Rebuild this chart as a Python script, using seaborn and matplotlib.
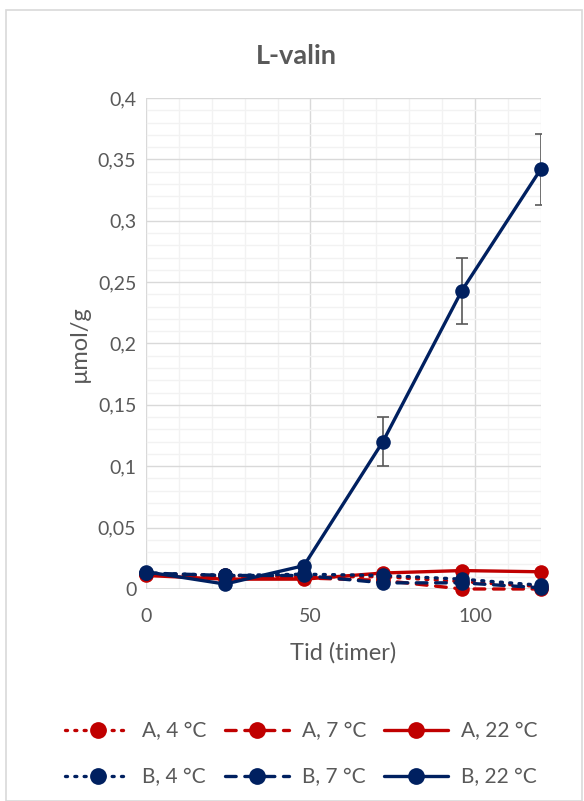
import matplotlib
matplotlib.use("Agg")
import matplotlib.pyplot as plt
import seaborn as sns
import pandas as pd
import numpy as np
from matplotlib.ticker import MultipleLocator, FuncFormatter

# ---- data ----
hours = [0, 24, 48, 72, 96, 120]
series_names = ["A, 4 °C", "A, 7 °C", "A, 22 °C", "B, 4 °C", "B, 7 °C", "B, 22 °C"]
a_4 = [0.012, 0.011, 0.010, 0.010, 0.006, 0.002]
a_7 = [0.012, 0.010, 0.009, 0.007, 0.000, 0.000]
a_22 = [0.011, 0.008, 0.008, 0.013, 0.015, 0.014]
b_4 = [0.013, 0.011, 0.012, 0.011, 0.008, 0.003]
b_7 = [0.013, 0.011, 0.011, 0.005, 0.005, 0.001]
b_22 = [0.014, 0.004, 0.019, 0.120, 0.243, 0.342]
b_22_err = [0.0, 0.0, 0.0, 0.020, 0.027, 0.029]

values = [a_4, a_7, a_22, b_4, b_7, b_22]
red = "#C00000"
navy = "#002060"
colors = [red, red, red, navy, navy, navy]
styles = [(0, (0.6, 2.2)), (0, (3.2, 2.6)), "-", (0, (0.6, 2.2)), (0, (3.2, 2.6)), "-"]

rows = []
for name, vals in zip(series_names, values):
    for h, v in zip(hours, vals):
        rows.append({"Tid": h, "val": v, "serie": name})
df = pd.DataFrame(rows)

sns.set_theme(style="white")
plt.rcParams["font.family"] = ["Lato", "DejaVu Sans"]
text_col = "#595959"

fig = plt.figure(figsize=(5.84, 8.01), dpi=100)
ax = fig.add_axes([0.25, 0.2647, 0.676, 0.613])

# grids
ax.set_xlim(0, 120)
ax.set_ylim(0, 0.4)
ax.xaxis.set_major_locator(MultipleLocator(50))
ax.xaxis.set_minor_locator(MultipleLocator(10))
ax.yaxis.set_major_locator(MultipleLocator(0.05))
ax.yaxis.set_minor_locator(MultipleLocator(0.01))
ax.grid(which="minor", color="#F2F2F2", linewidth=1.0)
ax.grid(which="major", color="#D9D9D9", linewidth=1.0)
ax.set_axisbelow(True)
for s in ax.spines.values():
    s.set_visible(False)
ax.axhline(0, color="#D9D9D9", linewidth=1.2, zorder=1)
ax.axvline(0, color="#D9D9D9", linewidth=1.2, zorder=1)

for name, c, ls in zip(series_names, colors, styles):
    sub = df[df["serie"] == name]
    sns.lineplot(data=sub, x="Tid", y="val", ax=ax, color=c, linestyle=ls,
                 linewidth=2.4, marker="o", markersize=10.5, markeredgewidth=0,
                 dash_capstyle="round", label=name, legend=False, clip_on=False,
                 zorder=3)

ax.errorbar(hours, b_22, yerr=b_22_err, fmt="none", ecolor=text_col,
            elinewidth=1.2, capsize=4, capthick=1.2, zorder=2)

def comma(v, pos):
    if abs(v) < 1e-9:
        return "0"
    return ("%g" % round(v, 3)).replace(".", ",")

ax.yaxis.set_major_formatter(FuncFormatter(comma))
ax.tick_params(axis="both", which="both", length=0, labelsize=14, colors=text_col)
ax.tick_params(axis="x", pad=14)
ax.tick_params(axis="y", pad=7)
ax.set_xlabel("Tid (timer)", fontsize=17, color=text_col, labelpad=12)
ax.set_ylabel("µmol/g", fontsize=17, color=text_col, labelpad=6)
fig.text(0.508, 0.930, "L-valin", fontsize=19.5, fontweight="bold", color=text_col,
         ha="center", va="center")

handles, labels = ax.get_legend_handles_labels()
order = [0, 3, 1, 4, 2, 5]
leg = fig.legend([handles[i] for i in order], [labels[i] for i in order],
                 loc="center", bbox_to_anchor=(0.516, 0.058), ncol=3, frameon=False,
                 fontsize=15, handlelength=3.1, columnspacing=0.85,
                 handletextpad=0.6, labelspacing=1.25, markerscale=1.15)
for t in leg.get_texts():
    t.set_color(text_col)

# chart border
fig.patches.append(plt.Rectangle((0.011, 0.0), 0.985, 0.988, transform=fig.transFigure,
                                 fill=False, edgecolor="#D9D9D9", linewidth=1.2))

fig.savefig("out.png", dpi=100)
